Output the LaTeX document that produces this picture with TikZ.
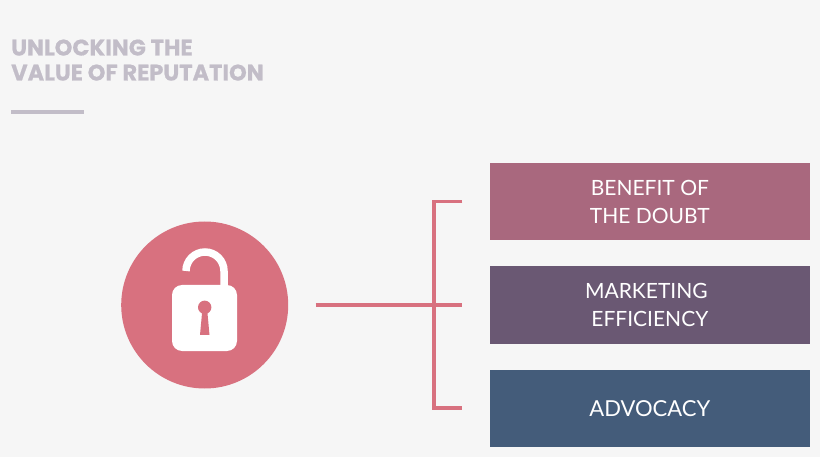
\documentclass[tikz,border=0pt]{standalone}
\usepackage{fontspec}
\setmainfont{Lato}
\newfontfamily\titlefont{Poppins}[BoldFeatures={FakeBold=0.6}]
\definecolor{bgc}{HTML}{F6F6F6}
\definecolor{titlec}{HTML}{C2BDC8}
\definecolor{rosec}{HTML}{D8717F}
\definecolor{boxa}{HTML}{A9687E}
\definecolor{boxb}{HTML}{6A5873}
\definecolor{boxc}{HTML}{445C7A}
\tikzset{
  x=1pt,y=-1pt,
  linkline/.style={draw=rosec,line width=3.6pt},
  itembox/.style={rectangle,inner sep=0pt,minimum width=320.7pt,minimum height=77.2pt,anchor=north west,
    text=white,font=\fontsize{21}{28}\selectfont,align=center},
  titletext/.style={anchor=base west,inner sep=0pt,text=titlec,font=\titlefont\bfseries\fontsize{22.5}{26}\selectfont},
}
\begin{document}
\begin{tikzpicture}
\useasboundingbox (0,0) rectangle (820,457);
\fill[bgc] (0,0) rectangle (820,457);
\node[titletext] (t1) at (11,55.5) {UNLOCKING THE};
\node[titletext] (t2) at (11,80.5) {VALUE OF REPUTATION};
\fill[titlec] (11,110.5) rectangle (84,114.5);
\node[circle,fill=rosec,minimum size=167pt,inner sep=0pt] (lock) at (204.7,305) {};
% padlock
\draw[white,line width=7.5pt] (186,271) arc[start angle=180,end angle=360,radius=19] -- (224,287);
\fill[white,rounded corners=10pt] (172,285) rectangle (237,351);
\fill[rosec] (204.7,307.3) circle[radius=6.7];
\fill[rosec] (202.5,308) -- (207,308) -- (209.5,335) -- (200,335) -- cycle;
% boxes
\node[itembox,fill=boxa] (b1) at (489.3,163.1) {BENEFIT OF\\THE DOUBT};
\node[itembox,fill=boxb] (b2) at (489.3,266.3) {MARKETING\rule{7pt}{0pt}\\EFFICIENCY};
\node[itembox,fill=boxc,font=\fontsize{22}{28}\selectfont] (b3) at (489.3,369.5) {ADVOCACY};
% connectors
\coordinate (s) at (315.5,305.2);
\coordinate (e1) at (462.3,201.7);
\coordinate (e2) at (462.3,305.2);
\coordinate (e3) at (462.3,408.2);
\coordinate (j1) at (433.7,201.7);
\coordinate (j3) at (433.7,408.2);
\draw[linkline] (s) -- (e2);
\draw[linkline,line cap=butt] (e1) -- (j1) -- (j3) -- (e3);
\end{tikzpicture}
\end{document}
